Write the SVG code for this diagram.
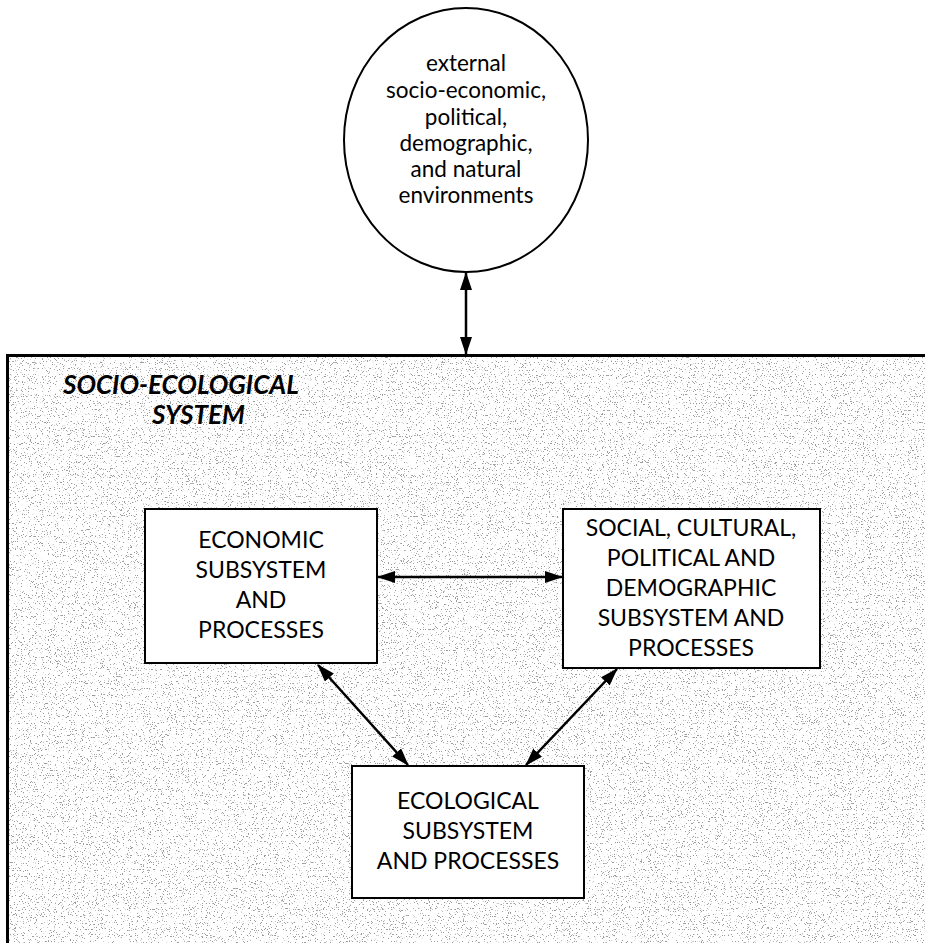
<svg xmlns="http://www.w3.org/2000/svg" width="925" height="943" viewBox="0 0 925 943">
<style>
.node{fill:#fff;stroke:#000;stroke-width:2}
.t{font-family:Lato,"Liberation Sans",sans-serif;font-size:23px;fill:#000;text-anchor:middle}
.c{font-family:Lato,"Liberation Sans",sans-serif;font-size:22.5px;fill:#000;text-anchor:middle}
.title{font-family:Lato,"Liberation Sans",sans-serif;font-size:26px;font-weight:bold;font-style:italic;fill:#000}
.conn{stroke:#000;stroke-width:2.5;fill:none;marker-start:url(#ah);marker-end:url(#ah)}
</style>
<defs>
<marker id="ah" viewBox="0 0 18 12" refX="17" refY="6" markerWidth="18" markerHeight="12" markerUnits="userSpaceOnUse" orient="auto-start-reverse">
<path d="M0,0 L18,6 L0,12 z" fill="#000"/>
</marker>
<filter id="speckle" x="0" y="0" width="100%" height="100%" filterUnits="objectBoundingBox">
<feTurbulence type="fractalNoise" baseFrequency="0.85" numOctaves="2" seed="7" result="n"/>
<feColorMatrix in="n" type="matrix" values="0 0 0 0 0.1  0 0 0 0 0.1  0 0 0 0 0.1  -14 0 0 0 5.2"/>
</filter>
</defs>
<rect width="925" height="943" fill="#fff"/>
<g id="system">
<rect x="7.5" y="355.5" width="940" height="600" fill="#fff"/>
<rect x="9" y="357" width="920" height="590" fill="#fff" filter="url(#speckle)" opacity="0.6"/>
<rect x="7.5" y="355.5" width="940" height="600" fill="none" stroke="#000" stroke-width="3"/>
<text class="title" x="63" y="394">SOCIO-ECOLOGICAL</text>
<text class="title" x="152" y="424">SYSTEM</text>
</g>
<g id="external">
<ellipse cx="466" cy="140" rx="122" ry="132" fill="#fff" stroke="#000" stroke-width="2"/>
<text class="c" x="466" y="71">external</text>
<text class="c" x="466" y="98">socio-economic,</text>
<text class="c" x="466" y="125">political,</text>
<text class="c" x="466" y="151">demographic,</text>
<text class="c" x="466" y="177">and natural</text>
<text class="c" x="466" y="203">environments</text>
</g>
<g id="economic">
<rect class="node" x="145" y="509" width="232" height="154"/>
<text class="t" x="261" y="548">ECONOMIC</text>
<text class="t" x="261" y="578">SUBSYSTEM</text>
<text class="t" x="261" y="608">AND</text>
<text class="t" x="261" y="638">PROCESSES</text>
</g>
<g id="social">
<rect class="node" x="563" y="509" width="257" height="159"/>
<text class="t" x="691" y="536">SOCIAL, CULTURAL,</text>
<text class="t" x="691" y="566">POLITICAL AND</text>
<text class="t" x="691" y="596">DEMOGRAPHIC</text>
<text class="t" x="691" y="626">SUBSYSTEM AND</text>
<text class="t" x="691" y="656">PROCESSES</text>
</g>
<g id="ecological">
<rect class="node" x="352" y="766" width="232" height="132"/>
<text class="t" x="468" y="809">ECOLOGICAL</text>
<text class="t" x="468" y="839">SUBSYSTEM</text>
<text class="t" x="468" y="869">AND PROCESSES</text>
</g>
<g id="connectors">
<line class="conn" x1="466" y1="273" x2="466" y2="354"/>
<line class="conn" x1="378" y1="577" x2="562" y2="577"/>
<line class="conn" x1="318" y1="665" x2="408" y2="765"/>
<line class="conn" x1="617" y1="669" x2="526" y2="765"/>
</g>
</svg>
